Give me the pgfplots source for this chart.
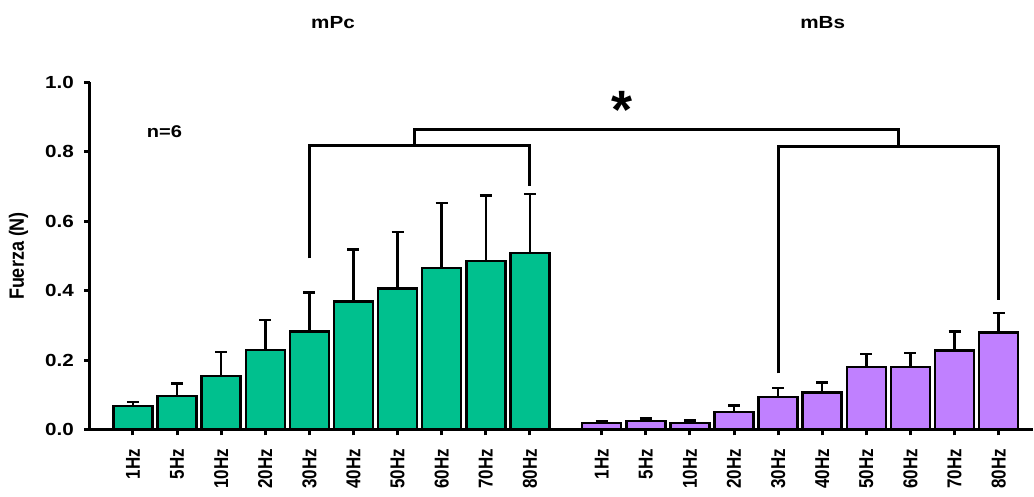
\documentclass[border=0pt]{standalone}
\usepackage{fontspec}
\setmainfont{Liberation Sans}
\usepackage{pgfplots}
\usepackage{pgfplotstable}
\pgfplotsset{compat=1.18}
\definecolor{barG}{RGB}{0,192,142}
\definecolor{barP}{RGB}{192,128,255}
\pgfplotstableread{
x y e
0 0.067 0.012
1 0.097 0.036
2 0.154 0.069
3 0.229 0.086
4 0.282 0.113
5 0.369 0.149
6 0.407 0.162
7 0.466 0.187
8 0.486 0.189
9 0.509 0.169
}\mpc
\pgfplotstableread{
x y e
10.63 0.019 0.005
11.63 0.025 0.007
12.63 0.018 0.008
13.63 0.051 0.018
14.63 0.094 0.026
15.63 0.107 0.028
16.63 0.180 0.037
17.63 0.180 0.040
18.63 0.228 0.054
19.63 0.279 0.057
}\mbs
\begin{document}
\begin{tikzpicture}
\useasboundingbox (0,0) rectangle (1034pt,497pt);
\begin{axis}[
  at={(90pt,67.5pt)}, anchor=south west,
  scale only axis, width=943pt, height=347pt,
  xmin=-0.975, xmax=20.41, ymin=0, ymax=1,
  clip=false,
  axis lines*=left,
  axis line style={line width=3pt},
  tick align=outside,
  major tick length=6pt,
  tick style={line width=3pt, black},
  ytick={0,0.2,0.4,0.6,0.8,1.0},
  yticklabel style={font=\fontsize{17.5}{20}\selectfont\bfseries, xscale=1.18, xshift=-5pt, /pgf/number format/fixed, /pgf/number format/fixed zerofill, /pgf/number format/precision=1, /pgf/number format/assume math mode=true},
  xtick={0,1,2,3,4,5,6,7,8,9,10.63,11.63,12.63,13.63,14.63,15.63,16.63,17.63,18.63,19.63},
  xticklabels={1Hz,5Hz,10Hz,20Hz,30Hz,40Hz,50Hz,60Hz,70Hz,80Hz,1Hz,5Hz,10Hz,20Hz,30Hz,40Hz,50Hz,60Hz,70Hz,80Hz},
  xticklabel style={rotate=90, anchor=east, xshift=-10pt, yscale=1.18, font=\fontsize{17}{20}\selectfont\bfseries},
  ylabel={Fuerza (N)},
  ylabel style={at={(axis description cs:0,0.5)}, anchor=center, yshift=71.5pt, yscale=1.15, font=\fontsize{18}{20}\selectfont\bfseries},
]
\addplot[ybar, bar width=39pt, bar shift=0pt, fill=barG, draw=black, line width=2.5pt,
  error bars/.cd, y dir=plus, y explicit,
  error bar style={line width=2.5pt, black},
  error mark options={rotate=90, mark size=6pt, line width=2.5pt, black}]
  table[x=x, y=y, y error=e]{\mpc};
\addplot[ybar, bar width=39pt, bar shift=0pt, fill=barP, draw=black, line width=2.5pt,
  error bars/.cd, y dir=plus, y explicit,
  error bar style={line width=2.5pt, black},
  error mark options={rotate=90, mark size=6pt, line width=2.5pt, black}]
  table[x=x, y=y, y error=e]{\mbs};
% significance brackets
\addplot[black, line width=3pt, no markers, line join=miter] coordinates {(4,0.493) (4,0.818) (9,0.818) (9,0.703)};
\addplot[black, line width=3pt, no markers, line join=miter] coordinates {(14.63,0.162) (14.63,0.815) (19.63,0.815) (19.63,0.373)};
\addplot[black, line width=3pt, no markers, line join=miter] coordinates {(6.38,0.818) (6.38,0.865) (17.35,0.865) (17.35,0.815)};
\node[font=\fontsize{54}{54}\selectfont\bfseries, anchor=base] at (axis cs:11.10,0.868) {*};
\node[font=\fontsize{17}{20}\selectfont\bfseries, xscale=1.18] at (axis cs:0.714,0.858) {n=6};
\node[font=\fontsize{17.5}{20}\selectfont\bfseries, xscale=1.18] at (axis cs:4.535,1.174) {mPc};
\node[font=\fontsize{17.5}{20}\selectfont\bfseries, xscale=1.18] at (axis cs:15.64,1.174) {mBs};
\end{axis}
\end{tikzpicture}
\end{document}
